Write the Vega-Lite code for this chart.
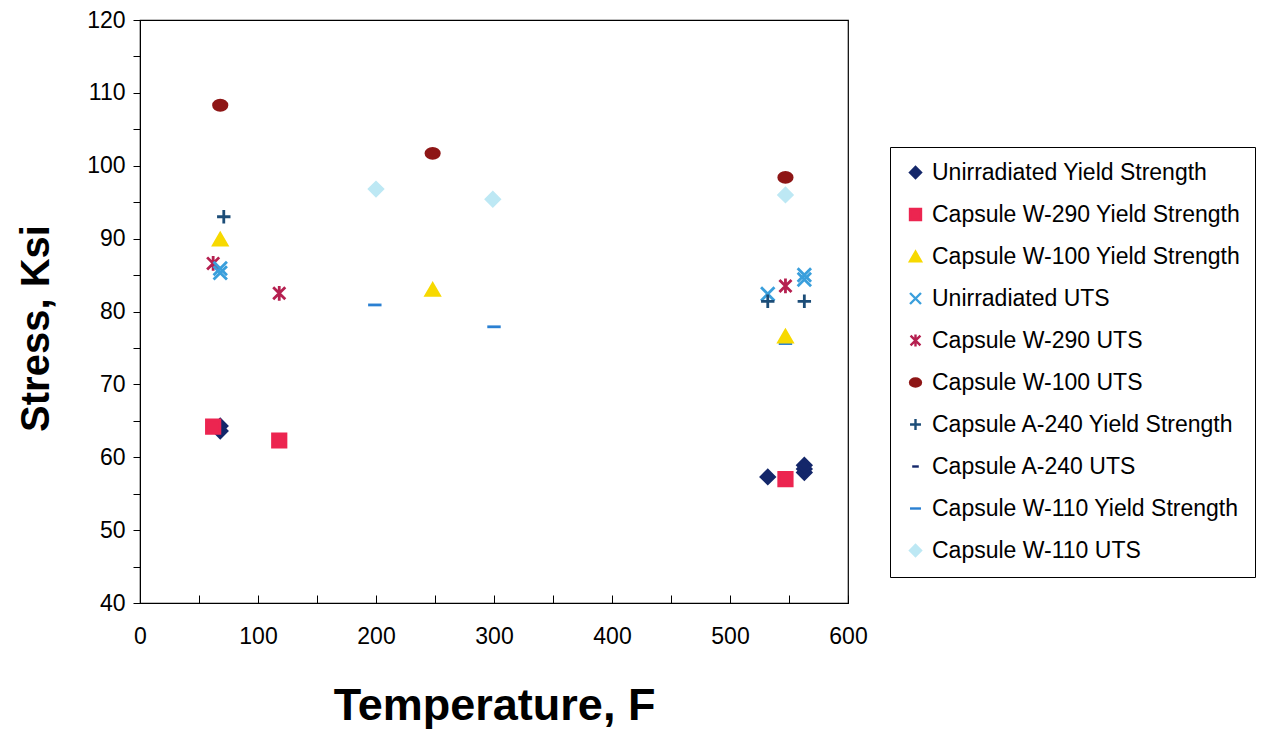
{
  "$schema": "https://vega.github.io/schema/vega-lite/v6.json",
  "autosize": "none",
  "width": 708,
  "height": 583,
  "padding": {"left": 140, "top": 20, "right": 426, "bottom": 128},
  "background": "white",
  "config": {
    "font": "Liberation Sans",
    "view": {"stroke": "black", "strokeWidth": 1.2}
  },
  "data": {
    "values": [
      {"series": "Capsule W-110 UTS", "t": 200, "s": 96.8},
      {"series": "Capsule W-110 UTS", "t": 299, "s": 95.4},
      {"series": "Capsule W-110 UTS", "t": 547, "s": 96.0},
      {"series": "Capsule W-110 Yield Strength", "t": 199, "s": 80.9},
      {"series": "Capsule W-110 Yield Strength", "t": 300, "s": 77.9},
      {"series": "Capsule W-110 Yield Strength", "t": 547, "s": 75.6},
      {"series": "Capsule W-100 UTS", "t": 68, "s": 108.3},
      {"series": "Capsule W-100 UTS", "t": 248, "s": 101.7},
      {"series": "Capsule W-100 UTS", "t": 547, "s": 98.4},
      {"series": "Capsule W-100 Yield Strength", "t": 68, "s": 89.9},
      {"series": "Capsule W-100 Yield Strength", "t": 248, "s": 83.0},
      {"series": "Capsule W-100 Yield Strength", "t": 547, "s": 76.6},
      {"series": "Capsule W-290 UTS", "t": 62, "s": 86.6},
      {"series": "Capsule W-290 UTS", "t": 118, "s": 82.5},
      {"series": "Capsule W-290 UTS", "t": 547, "s": 83.5},
      {"series": "Unirradiated UTS", "t": 68, "s": 85.3},
      {"series": "Unirradiated UTS", "t": 68, "s": 85.9},
      {"series": "Unirradiated UTS", "t": 532, "s": 82.4},
      {"series": "Unirradiated UTS", "t": 563, "s": 84.4},
      {"series": "Unirradiated UTS", "t": 563, "s": 85.0},
      {"series": "Capsule A-240 Yield Strength", "t": 71, "s": 93.0},
      {"series": "Capsule A-240 Yield Strength", "t": 532, "s": 81.4},
      {"series": "Capsule A-240 Yield Strength", "t": 563, "s": 81.4},
      {"series": "Unirradiated Yield Strength", "t": 68, "s": 63.6},
      {"series": "Unirradiated Yield Strength", "t": 68, "s": 64.3},
      {"series": "Unirradiated Yield Strength", "t": 532, "s": 57.3},
      {"series": "Unirradiated Yield Strength", "t": 563, "s": 57.9},
      {"series": "Unirradiated Yield Strength", "t": 563, "s": 58.4},
      {"series": "Unirradiated Yield Strength", "t": 563, "s": 58.9},
      {"series": "Capsule W-290 Yield Strength", "t": 62, "s": 64.2},
      {"series": "Capsule W-290 Yield Strength", "t": 118, "s": 62.3},
      {"series": "Capsule W-290 Yield Strength", "t": 547, "s": 57.0}
    ]
  },
  "mark": {"type": "point", "filled": true, "size": 180, "strokeWidth": 2.8, "opacity": 1},
  "encoding": {
    "x": {
      "field": "t", "type": "quantitative",
      "scale": {"domain": [0, 600], "nice": false, "zero": false},
      "axis": {
        "title": "Temperature, F",
        "values": [0, 50, 100, 150, 200, 250, 300, 350, 400, 450, 500, 550, 600],
        "labelExpr": "datum.value % 100 == 0 ? datum.label : ''",
        "grid": false, "domainColor": "black", "tickColor": "black",
        "tickSize": -8, "labelPadding": 30, "labelFontSize": 23, "labelColor": "black",
        "titleFontSize": 45, "titleFontWeight": "bold", "titleColor": "black", "titlePadding": 35,
        "labelFlush": false
      }
    },
    "y": {
      "field": "s", "type": "quantitative",
      "scale": {"domain": [40, 120], "nice": false, "zero": false},
      "axis": {
        "title": "Stress, Ksi",
        "values": [40, 45, 50, 55, 60, 65, 70, 75, 80, 85, 90, 95, 100, 105, 110, 115, 120],
        "labelExpr": "datum.value % 10 == 0 ? datum.label : ''",
        "grid": false, "domainColor": "black", "tickColor": "black",
        "tickSize": 7, "labelPadding": 8, "labelFontSize": 23, "labelColor": "black",
        "titleFontSize": 40, "titleFontWeight": "bold", "titleColor": "black", "titlePadding": 30,
        "titleY": 308,
        "labelFlush": false
      }
    },
    "color": {
      "field": "series", "type": "nominal",
      "scale": {
        "domain": ["Unirradiated Yield Strength", "Capsule W-290 Yield Strength", "Capsule W-100 Yield Strength", "Unirradiated UTS", "Capsule W-290 UTS", "Capsule W-100 UTS", "Capsule A-240 Yield Strength", "Capsule A-240 UTS", "Capsule W-110 Yield Strength", "Capsule W-110 UTS"],
        "range": ["#14276a", "#ec2550", "#f7d900", "#3a9fdc", "#b52050", "#8e1616", "#1c4d78", "#14276a", "#2a80d2", "#bde8f4"]
      },
      "legend": {
        "title": null, "orient": "none", "legendX": 750, "legendY": 127,
        "strokeColor": "black", "padding": 14, "labelFontSize": 23, "labelColor": "black",
        "rowPadding": 18, "labelOffset": 5, "symbolSize": 120, "symbolStrokeWidth": 2.4,
        "labelLimit": 400
      }
    },
    "stroke": {
      "field": "series", "type": "nominal",
      "scale": {
        "domain": ["Unirradiated Yield Strength", "Capsule W-290 Yield Strength", "Capsule W-100 Yield Strength", "Unirradiated UTS", "Capsule W-290 UTS", "Capsule W-100 UTS", "Capsule A-240 Yield Strength", "Capsule A-240 UTS", "Capsule W-110 Yield Strength", "Capsule W-110 UTS"],
        "range": ["#14276a", "#ec2550", "#f7d900", "#3a9fdc", "#b52050", "#8e1616", "#1c4d78", "#14276a", "#2a80d2", "#bde8f4"]
      }
    },
    "shape": {
      "field": "series", "type": "nominal",
      "scale": {
        "domain": ["Unirradiated Yield Strength", "Capsule W-290 Yield Strength", "Capsule W-100 Yield Strength", "Unirradiated UTS", "Capsule W-290 UTS", "Capsule W-100 UTS", "Capsule A-240 Yield Strength", "Capsule A-240 UTS", "Capsule W-110 Yield Strength", "Capsule W-110 UTS"],
        "range": ["diamond", "square", "triangle-up", "M-1,-1L1,1M-1,1L1,-1", "M-0.9,-0.9L0.9,0.9M-0.9,0.9L0.9,-0.9M0,-1.1L0,1.1", "M-1,0A1,0.75 0 1,0 1,0A1,0.75 0 1,0 -1,0Z", "M-1,0L1,0M0,-1L0,1", "M-0.6,0L0.6,0", "M-1,0L1,0", "diamond"]
      }
    }
  }
}
